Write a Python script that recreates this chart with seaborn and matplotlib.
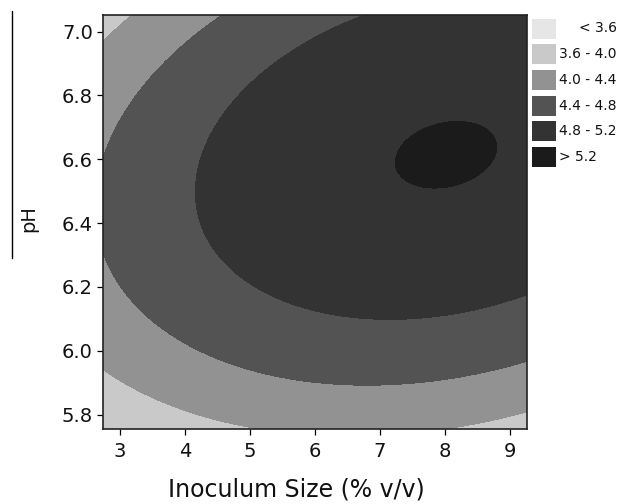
import numpy as np
import matplotlib
matplotlib.use("Agg")
import matplotlib.pyplot as plt
from matplotlib.patches import Rectangle
from matplotlib.lines import Line2D
import seaborn as sns

# fitted response surface (coded around inoculum 6.0 %, pH 6.4)
# terms: const, u, v, u^2, v^2, u*v
coef = [5.064, 0.0978, 0.507, -0.02948, -1.6510, 0.09923]
x_center, y_center = 6.0, 6.4

inoculum_range = [2.74, 9.26]
ph_range = [5.755, 7.053]
x_ticks = [3, 4, 5, 6, 7, 8, 9]
y_ticks = [5.8, 6.0, 6.2, 6.4, 6.6, 6.8, 7.0]

levels = [3.6, 4.0, 4.4, 4.8, 5.2]
level_labels = ["< 3.6", "3.6 - 4.0", "4.0 - 4.4", "4.4 - 4.8", "4.8 - 5.2", "> 5.2"]
grays = ["#e6e6e6", "#c9c9c9", "#929292", "#535353", "#333333", "#1b1b1b"]

xs = np.linspace(inoculum_range[0], inoculum_range[1], 400)
ys = np.linspace(ph_range[0], ph_range[1], 400)
X, Y = np.meshgrid(xs, ys)
U, V = X - x_center, Y - y_center
Z = coef[0] + coef[1] * U + coef[2] * V + coef[3] * U**2 + coef[4] * V**2 + coef[5] * U * V

sns.set_style("ticks")
plt.rcParams["font.family"] = ["DejaVu Sans"]

fig = plt.figure(figsize=(6.21, 5.04), dpi=100)
ax = fig.add_axes([0.1663, 0.1488, 0.6817, 0.822])
ax.contourf(X, Y, Z, levels=[-100] + levels + [100], colors=grays)

ax.set_xlim(inoculum_range)
ax.set_ylim(ph_range)
ax.set_xticks(x_ticks)
ax.set_yticks(y_ticks)
ax.set_yticklabels([f"{t:.1f}" for t in y_ticks])
ax.tick_params(axis="both", direction="out", length=4.5, width=0.9, color="black",
               labelsize=14, labelcolor="#111111")
ax.tick_params(axis="x", pad=5)
ax.tick_params(axis="y", pad=3)
for s in ax.spines.values():
    s.set_color("#222222")
    s.set_linewidth(1.2)

ax.set_xlabel("Inoculum Size (% v/v)", fontsize=17, color="#111111", va="top")
ax.xaxis.set_label_coords(0.456, -0.118)
ax.set_ylabel("pH", fontsize=14, color="#111111")
ax.yaxis.set_label_coords(-0.154, 0.508)

# stray rule left of the pH label
fig.add_artist(Line2D([12.3 / 621, 12.3 / 621], [1 - 11 / 504, 1 - 258 / 504],
                      color="black", linewidth=1.0))

# legend boxes at the right
W, H = 621.0, 504.0
for i, (lab, col) in enumerate(zip(level_labels, grays)):
    yc = 28.5 + i * 25.7
    fig.add_artist(Rectangle((532 / W, 1 - (yc + 10) / H), 24 / W, 20 / H,
                             facecolor=col, edgecolor="none", transform=fig.transFigure))
    if i == 0:
        fig.text(617 / W, 1 - yc / H, lab, fontsize=10, ha="right", va="center", color="#111111")
    else:
        fig.text(559 / W, 1 - yc / H, lab, fontsize=10, ha="left", va="center", color="#111111")

fig.savefig("out.png", dpi=100)
